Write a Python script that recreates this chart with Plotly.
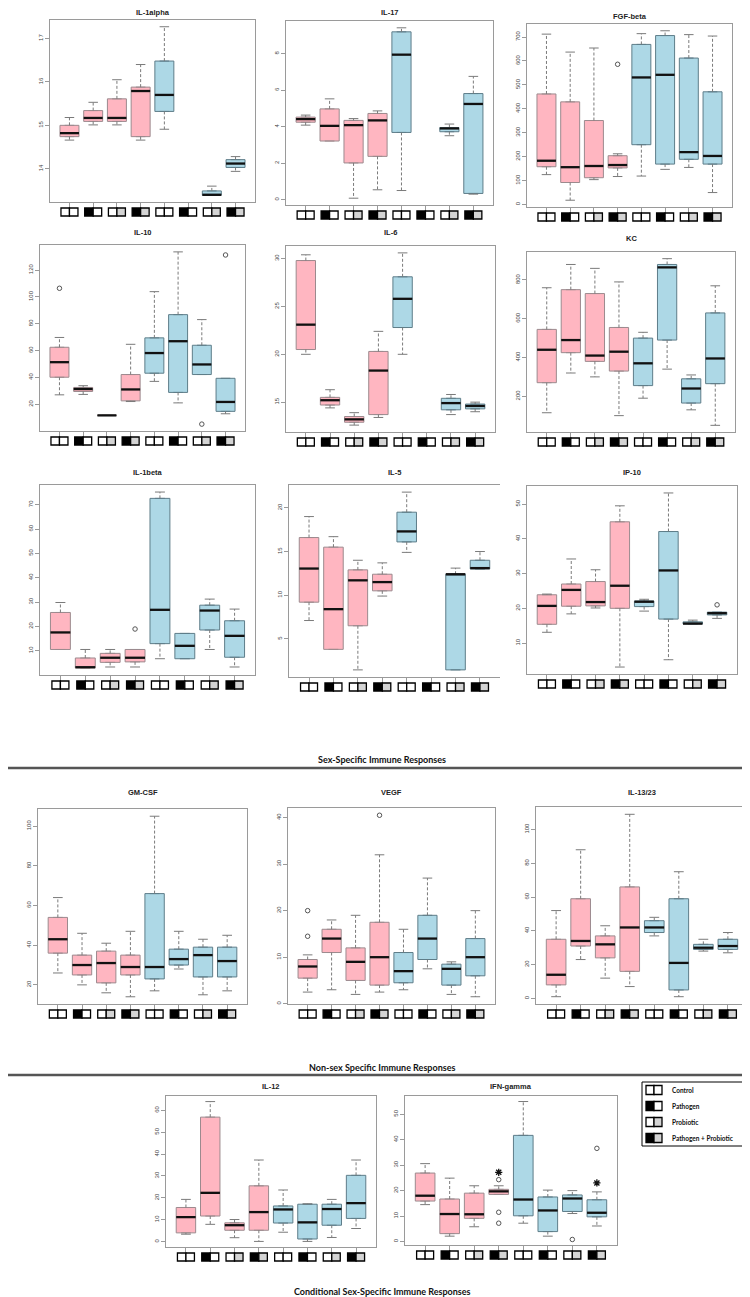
import plotly.graph_objects as go

W, H = 750, 1297

# ---------------- data ----------------
group_names = ["Control", "Pathogen", "Probiotic", "Pathogen + Probiotic"]
positions = [1, 2, 3, 4, 5, 6, 7, 8]
icon_left = ["white", "black", "white", "black"] * 2
icon_right = ["white", "white", "#d4d4d4", "#d4d4d4"] * 2

# IL-1alpha
il1a_lw = [14.66, 15.01, 15.01, 14.66, 14.91, None, 13.39, 13.94]
il1a_q1 = [14.74, 15.09, 15.09, 14.74, 15.32, None, 13.39, 14.03]
il1a_med = [14.82, 15.17, 15.17, 15.79, 15.70, None, 13.40, 14.12]
il1a_q3 = [15.00, 15.34, 15.61, 15.88, 16.48, None, 13.49, 14.21]
il1a_uw = [15.18, 15.53, 16.05, 16.40, 17.27, None, 13.60, 14.28]
il1a_ticks = [14, 15, 16, 17]

# IL-17
il17_lw = [4.09, 3.22, 0.09, 0.55, 0.51, None, 3.51, 0.31]
il17_q1 = [4.25, 3.22, 2.02, 2.38, 3.69, None, 3.73, 0.35]
il17_med = [4.42, 4.05, 4.09, 4.35, 7.95, None, 3.91, 5.25]
il17_q3 = [4.53, 4.98, 4.35, 4.73, 9.20, None, 3.96, 5.82]
il17_uw = [4.64, 5.53, 4.45, 4.87, 9.42, None, 4.15, 6.76]
il17_ticks = [0, 2, 4, 6, 8]

# FGF-beta
fgf_lw = [125, 18, 104, 117, 119, 147, 155, 50]
fgf_q1 = [158, 92, 112, 153, 250, 169, 189, 169]
fgf_med = [183, 156, 161, 165, 531, 542, 219, 203]
fgf_q3 = [462, 429, 351, 204, 669, 706, 612, 471]
fgf_uw = [712, 637, 654, 212, 714, 726, 710, 704]
fgf_out = [[], [], [], [586], [], [], [], []]
fgf_ticks = [0, 100, 200, 300, 400, 500, 600, 700]

# IL-10
il10_lw = [27.1, 27.4, 11.8, 22.1, 37.1, 21.1, 42.2, 13.0]
il10_q1 = [40.2, 29.6, 11.8, 22.6, 43.2, 28.9, 42.2, 14.8]
il10_med = [51.4, 31.4, 11.8, 31.1, 58.2, 67.0, 49.7, 21.8]
il10_q3 = [62.5, 32.6, 11.8, 42.2, 69.5, 86.8, 64.0, 39.4]
il10_uw = [69.8, 33.9, 11.8, 64.7, 103.9, 133.5, 83.1, 39.4]
il10_out = [[106.4], [], [], [], [], [], [5.3], [131.2]]
il10_ticks = [0, 20, 40, 60, 80, 100, 120]

# IL-6
il6_lw = [20.0, 14.4, 12.6, 13.4, 20.0, None, 13.7, 14.0]
il6_q1 = [20.5, 14.7, 12.9, 13.7, 22.8, None, 14.2, 14.3]
il6_med = [23.1, 15.2, 13.2, 18.3, 25.8, None, 14.9, 14.6]
il6_q3 = [29.8, 15.5, 13.5, 20.3, 28.1, None, 15.4, 14.8]
il6_uw = [30.4, 16.3, 13.9, 22.4, 30.6, None, 15.8, 15.0]
il6_ticks = [15, 20, 25, 30]

# KC
kc_lw = [115, 320, 300, 100, 190, 340, 130, 50]
kc_q1 = [270, 425, 380, 330, 255, 490, 165, 265]
kc_med = [440, 490, 410, 430, 370, 865, 240, 395]
kc_q3 = [545, 750, 730, 555, 500, 880, 290, 630]
kc_uw = [760, 880, 860, 790, 530, 910, 310, 770]
kc_ticks = [200, 400, 600, 800]

# IL-1beta
il1b_lw = [10.5, 2.9, 3.3, 3.3, 6.7, 6.7, 10.5, 3.3]
il1b_q1 = [10.5, 2.9, 5.2, 5.4, 12.9, 6.7, 18.5, 7.3]
il1b_med = [17.5, 3.2, 7.1, 7.1, 26.8, 12.0, 26.5, 16.1]
il1b_q3 = [25.7, 7.0, 8.9, 10.5, 72.6, 17.1, 28.7, 22.3]
il1b_uw = [29.8, 10.5, 10.5, 10.5, 75.2, 17.1, 31.2, 27.1]
il1b_out = [[], [], [], [18.9], [], [], [], []]
il1b_ticks = [10, 20, 30, 40, 50, 60, 70]

# IL-5
il5_lw = [7.1, 3.8, 1.45, 9.9, 14.9, None, 1.45, 13.0]
il5_q1 = [9.2, 3.8, 6.5, 10.5, 16.1, None, 1.45, 13.0]
il5_med = [13.05, 8.4, 11.7, 11.5, 17.3, None, 12.4, 13.1]
il5_q3 = [16.6, 15.5, 12.9, 12.4, 19.5, None, 12.4, 14.0]
il5_uw = [19.0, 16.7, 14.0, 13.7, 21.8, None, 13.1, 15.0]
il5_ticks = [5, 10, 15, 20]

# IP-10
ip10_lw = [13.1, 18.4, 20.1, 3.1, 19.2, 5.2, 15.5, 17.1]
ip10_q1 = [15.4, 20.6, 20.7, 20.0, 20.5, 16.9, 15.5, 18.1]
ip10_med = [20.7, 25.3, 21.8, 26.5, 21.9, 30.9, 15.6, 18.6]
ip10_q3 = [23.9, 27.0, 27.7, 44.9, 22.1, 42.1, 16.1, 18.9]
ip10_uw = [24.1, 34.2, 31.1, 49.5, 22.6, 53.2, 16.6, 18.9]
ip10_out = [[], [], [], [], [], [], [], [21.0]]
ip10_ticks = [10, 20, 30, 40, 50]

# GM-CSF
gm_lw = [26, 20, 16, 14, 17, 28, 15, 17]
gm_q1 = [36, 25, 21, 25, 23, 30, 24, 24]
gm_med = [43, 30, 31, 29, 29, 33, 35, 32]
gm_q3 = [54, 35, 37, 35, 66, 38, 39, 39]
gm_uw = [64, 46, 41, 47, 105, 47, 43, 45]
gm_ticks = [20, 40, 60, 80, 100]

# VEGF
vegf_lw = [2.5, 3, 2, 2.5, 3, 7.5, 2, 1.5]
vegf_q1 = [5.5, 11, 5, 4, 4.5, 9.5, 4, 6]
vegf_med = [8, 14, 9, 10, 7, 14, 7.5, 10]
vegf_q3 = [9.5, 16, 12, 17.5, 11, 19, 8.5, 14]
vegf_uw = [10.5, 18, 19, 32, 16, 27, 9, 20]
vegf_out = [[14.5, 20], [], [], [40.5], [], [], [], []]
vegf_ticks = [0, 10, 20, 30, 40]

# IL-13/23
il13_lw = [1, 23, 12, 7, 37, 1, 28, 27]
il13_q1 = [8, 31, 24, 16, 39, 5, 29, 29]
il13_med = [14, 34, 32, 42, 42, 21, 30, 31]
il13_q3 = [35, 59, 37, 66, 46, 59, 32, 35]
il13_uw = [52, 88, 43, 109, 48, 75, 35, 39]
il13_ticks = [0, 20, 40, 60, 80, 100]

# IL-12
il12_lw = [3.4, 7.9, 1.8, 0.1, 4.3, 0.1, 1.9, 6.0]
il12_q1 = [4.0, 11.7, 5.2, 5.2, 8.5, 1.2, 7.5, 10.6]
il12_med = [11.2, 22.3, 7.5, 13.5, 14.7, 8.8, 14.9, 17.6]
il12_q3 = [15.6, 56.9, 8.6, 25.5, 16.3, 17.1, 17.1, 30.3]
il12_uw = [19.3, 64.0, 10.1, 37.3, 23.6, 17.3, 19.3, 37.3]
il12_ticks = [0, 10, 20, 30, 40, 50, 60]

# IFN-gamma
ifn_lw = [14.5, 2.1, 5.8, 18.5, 7.2, 2.1, 11.0, 6.1]
ifn_q1 = [15.9, 3.1, 9.1, 18.5, 10.1, 3.9, 11.8, 9.7]
ifn_med = [18.0, 10.8, 10.7, 19.7, 16.5, 12.2, 16.9, 11.3]
ifn_q3 = [26.9, 16.7, 19.0, 20.5, 41.7, 17.5, 18.3, 16.4]
ifn_uw = [30.6, 24.9, 21.9, 21.9, 55.0, 20.2, 20.0, 19.5]
ifn_out = [[], [], [], [24.3, 11.5, 7.2], [], [], [0.8], [36.6]]
ifn_star = [[], [], [], [27.2], [], [], [], [23.0]]
ifn_ticks = [0, 10, 20, 30, 40, 50]

EMPTY = [[] for _ in range(8)]

# ---------------- panel layout (pixels: left, right, top, bottom, title_y) ----------------
panels = [
    dict(name="IL-1alpha", st=(il1a_lw, il1a_q1, il1a_med, il1a_q3, il1a_uw), out=EMPTY, ticks=il1a_ticks, g=(42, 247, 12, 194, 5)),
    dict(name="IL-17", st=(il17_lw, il17_q1, il17_med, il17_q3, il17_uw), out=EMPTY, ticks=il17_ticks, g=(278, 485, 13, 197, 5)),
    dict(name="FGF-beta", st=(fgf_lw, fgf_q1, fgf_med, fgf_q3, fgf_uw), out=fgf_out, ticks=fgf_ticks, g=(519, 724, 16, 199, 8)),
    dict(name="IL-10", st=(il10_lw, il10_q1, il10_med, il10_q3, il10_uw), out=il10_out, ticks=il10_ticks, g=(32, 237, 237, 423, 224)),
    dict(name="IL-6", st=(il6_lw, il6_q1, il6_med, il6_q3, il6_uw), out=EMPTY, ticks=il6_ticks, g=(278, 487, 238, 424, 224)),
    dict(name="KC", st=(kc_lw, kc_q1, kc_med, kc_q3, kc_uw), out=EMPTY, ticks=kc_ticks, g=(519, 727, 244, 424, 231)),
    dict(name="IL-1beta", st=(il1b_lw, il1b_q1, il1b_med, il1b_q3, il1b_uw), out=il1b_out, ticks=il1b_ticks, g=(32, 247, 477, 667, 464)),
    dict(name="IL-5", st=(il5_lw, il5_q1, il5_med, il5_q3, il5_uw), out=EMPTY, ticks=il5_ticks, g=(281, 492, 477, 669, 464), right=False),
    dict(name="IP-10", st=(ip10_lw, ip10_q1, ip10_med, ip10_q3, ip10_uw), out=ip10_out, ticks=ip10_ticks, g=(519, 729, 478, 666, 464)),
    dict(name="GM-CSF", st=(gm_lw, gm_q1, gm_med, gm_q3, gm_uw), out=EMPTY, ticks=gm_ticks, g=(30, 239, 801, 996, 784)),
    dict(name="VEGF", st=(vegf_lw, vegf_q1, vegf_med, vegf_q3, vegf_uw), out=vegf_out, ticks=vegf_ticks, g=(280, 487, 800, 996, 784)),
    dict(name="IL-13/23", st=(il13_lw, il13_q1, il13_med, il13_q3, il13_uw), out=EMPTY, ticks=il13_ticks, g=(528, 740, 799, 996, 784)),
    dict(name="IL-12", st=(il12_lw, il12_q1, il12_med, il12_q3, il12_uw), out=EMPTY, ticks=il12_ticks, g=(158, 368, 1088, 1239, 1078)),
    dict(name="IFN-gamma", st=(ifn_lw, ifn_q1, ifn_med, ifn_q3, ifn_uw), out=ifn_out, star=ifn_star, ticks=ifn_ticks, g=(397, 609, 1088, 1237, 1078)),
]

PINK, PINK_EDGE = "#FFB6C1", "#9c8a8e"
BLUE, BLUE_EDGE = "#ADD8E6", "#5e7d89"
FRAME = "#9a9a9a"
WHISK = "#7a7a7a"
XR = [0.18, 8.82]
TICKFONT = dict(family="Liberation Sans", size=6, color="#444")

fig = go.Figure()
shapes, annotations = [], []
layout_axes = {}

for i, p in enumerate(panels, start=1):
    xa = "x" if i == 1 else f"x{i}"
    ya = "y" if i == 1 else f"y{i}"
    L, R, T, B, TY = p["g"]
    lw, q1, med, q3, uw = p["st"]
    out = p["out"]
    star = p.get("star", EMPTY)
    vals = [v for arr in (lw, q1, med, q3, uw) for v in arr if v is not None]
    vals += [v for lst in out for v in lst] + [v for lst in star for v in lst]
    lo, hi = min(vals), max(vals)
    rng = hi - lo
    yr = [lo - 0.04 * rng, hi + 0.04 * rng]
    idx_all = [g for g in range(8) if med[g] is not None]

    # whiskers (dashed)
    wx, wy = [], []
    for g in idx_all:
        xp = positions[g]
        if uw[g] > q3[g]:
            wx += [xp, xp, None]; wy += [q3[g], uw[g], None]
        if lw[g] < q1[g]:
            wx += [xp, xp, None]; wy += [q1[g], lw[g], None]
    fig.add_trace(go.Scatter(x=wx, y=wy, mode="lines", line=dict(color=WHISK, width=1, dash="3px,2px"),
                             xaxis=xa, yaxis=ya, hoverinfo="skip", showlegend=False))

    # boxes
    for grp, fill, edge in ((range(0, 4), PINK, PINK_EDGE), (range(4, 8), BLUE, BLUE_EDGE)):
        idx = [g for g in grp if med[g] is not None]
        if not idx:
            continue
        fig.add_trace(go.Box(
            x=[positions[g] for g in idx], q1=[q1[g] for g in idx], median=[med[g] for g in idx],
            q3=[q3[g] for g in idx], lowerfence=[q1[g] for g in idx], upperfence=[q3[g] for g in idx],
            width=0.8, fillcolor=fill, line=dict(color=edge, width=1), boxpoints=False,
            xaxis=xa, yaxis=ya, hoverinfo="skip", showlegend=False))

    # caps
    cx, cy = [], []
    for g in idx_all:
        xp = positions[g]
        if uw[g] > q3[g]:
            cx += [xp - 0.2, xp + 0.2, None]; cy += [uw[g], uw[g], None]
        if lw[g] < q1[g]:
            cx += [xp - 0.2, xp + 0.2, None]; cy += [lw[g], lw[g], None]
    fig.add_trace(go.Scatter(x=cx, y=cy, mode="lines", line=dict(color=WHISK, width=1),
                             xaxis=xa, yaxis=ya, hoverinfo="skip", showlegend=False))

    # medians
    mx, my = [], []
    for g in idx_all:
        xp = positions[g]
        mx += [xp - 0.4, xp + 0.4, None]; my += [med[g], med[g], None]
    fig.add_trace(go.Scatter(x=mx, y=my, mode="lines", line=dict(color="#111", width=2.3),
                             xaxis=xa, yaxis=ya, hoverinfo="skip", showlegend=False))

    # outliers
    ox = [positions[g] for g in range(8) for _ in out[g]]
    oy = [v for g in range(8) for v in out[g]]
    if ox:
        fig.add_trace(go.Scatter(x=ox, y=oy, mode="markers",
                                 marker=dict(symbol="circle-open", size=4.5, color="#555", line=dict(width=1)),
                                 xaxis=xa, yaxis=ya, hoverinfo="skip", showlegend=False))
    sx = [positions[g] for g in range(8) for _ in star[g]]
    sy = [v for g in range(8) for v in star[g]]
    if sx:
        fig.add_trace(go.Scatter(x=sx, y=sy, mode="markers",
                                 marker=dict(symbol="asterisk-open", size=6, color="#111", line=dict(width=1.3, color="#111")),
                                 xaxis=xa, yaxis=ya, hoverinfo="skip", showlegend=False, cliponaxis=False))

    xkey = "xaxis" if i == 1 else f"xaxis{i}"
    ykey = "yaxis" if i == 1 else f"yaxis{i}"
    layout_axes[xkey] = dict(domain=[L / W, R / W], range=XR, anchor=ya, showline=True, mirror=True,
                             linecolor=FRAME, linewidth=1, ticks="outside", ticklen=4, tickcolor=FRAME,
                             tickvals=positions, showticklabels=False, showgrid=False, zeroline=False,
                             fixedrange=True)
    layout_axes[ykey] = dict(domain=[1 - B / H, 1 - T / H], range=yr, anchor=xa, showline=True,
                             mirror=p.get("right", True), linecolor=FRAME, linewidth=1, ticks="outside",
                             ticklen=4, tickcolor=FRAME, tickvals=p["ticks"], tickangle=-90,
                             tickfont=TICKFONT, showgrid=False, zeroline=False, fixedrange=True)

    # icons under each category
    u = (R - L) / (XR[1] - XR[0])
    hw = 8.5 / u
    h = B - T
    y0, y1 = -6.0 / h, -14.0 / h
    for g in range(8):
        xp = positions[g]
        shapes.append(dict(type="rect", xref=xa, yref=f"{ya} domain", x0=xp - hw, x1=xp, y0=y1, y1=y0,
                           fillcolor=icon_left[g], line=dict(color="black", width=1.3), layer="above"))
        shapes.append(dict(type="rect", xref=xa, yref=f"{ya} domain", x0=xp, x1=xp + hw, y0=y1, y1=y0,
                           fillcolor=icon_right[g], line=dict(color="black", width=1.3), layer="above"))

    annotations.append(dict(x=(L + R) / 2 / W, y=1 - TY / H, xref="paper", yref="paper",
                            text=f"<b>{p['name']}</b>", showarrow=False, xanchor="center", yanchor="middle",
                            font=dict(family="Liberation Sans", size=7.5, color="#222")))

# section headings and rules
sections = [("Sex-Specific Immune Responses", 751, 760, 2.5),
            ("Non-sex Specific Immune Responses", 1059, 1067, 2.5),
            ("Conditional Sex-Specific Immune Responses", 1283, 1296, 2)]
for text, ty, ly, lwid in sections:
    annotations.append(dict(x=374 / W, y=1 - ty / H, xref="paper", yref="paper", text=f"<b>{text}</b>",
                            showarrow=False, xanchor="center", yanchor="middle",
                            font=dict(family="Lato", size=9, color="#111")))
    shapes.append(dict(type="line", xref="paper", yref="paper", x0=0, x1=1, y0=1 - ly / H, y1=1 - ly / H,
                       line=dict(color="#555", width=lwid)))

# legend
LG_L, LG_R, LG_T, LG_B = 634, 747, 1074, 1138
shapes.append(dict(type="rect", xref="paper", yref="paper", x0=LG_L / W, x1=LG_R / W,
                   y0=1 - LG_B / H, y1=1 - LG_T / H, line=dict(color="black", width=1), fillcolor="white"))
row_h = (LG_B - LG_T) / 4
for k, name in enumerate(group_names):
    cy = LG_T + row_h * (k + 0.5)
    for (xa0, xa1, col) in ((638, 646, icon_left[k]), (646, 654, icon_right[k])):
        shapes.append(dict(type="rect", xref="paper", yref="paper", x0=xa0 / W, x1=xa1 / W,
                           y0=1 - (cy + 4.5) / H, y1=1 - (cy - 4.5) / H, fillcolor=col,
                           line=dict(color="black", width=1.3)))
    annotations.append(dict(x=662 / W, y=1 - cy / H, xref="paper", yref="paper", text=f"<b>{name}</b>",
                            showarrow=False, xanchor="left", yanchor="middle",
                            font=dict(family="Lato", size=6.5, color="#111")))

fig.update_layout(width=W, height=H, margin=dict(l=0, r=0, t=0, b=0), paper_bgcolor="white",
                  plot_bgcolor="white", showlegend=False, shapes=shapes, annotations=annotations,
                  boxmode="overlay", **layout_axes)

fig.write_html("out.html")
